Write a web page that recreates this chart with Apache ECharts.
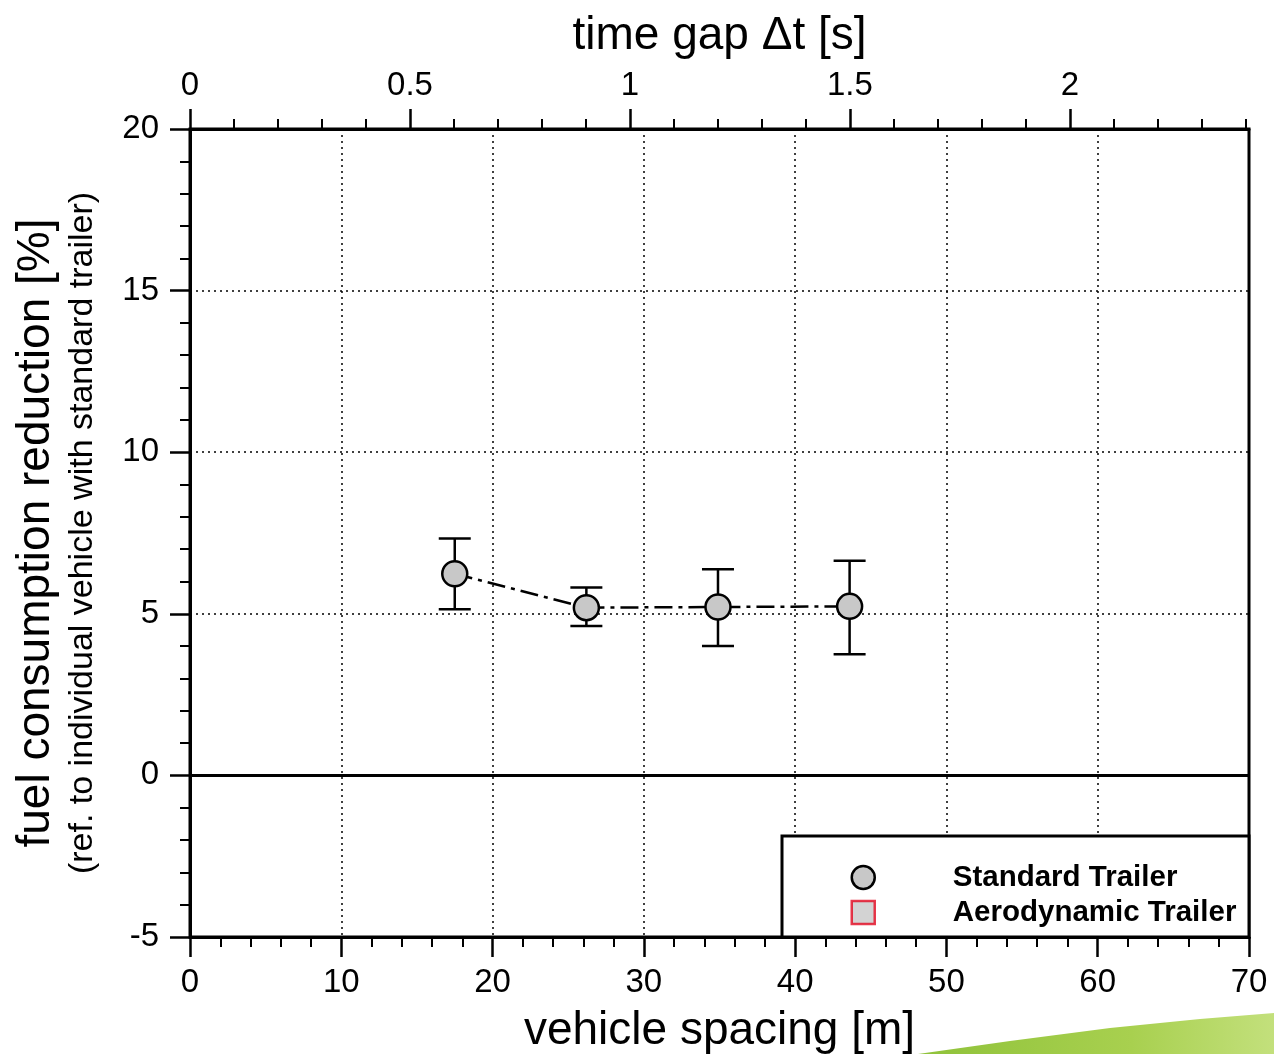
<!DOCTYPE html>
<html>
<head>
<meta charset="utf-8">
<title>Fuel consumption reduction vs. vehicle spacing</title>
<script src="https://cdn.jsdelivr.net/npm/echarts@6/dist/echarts.min.js"></script>
<style>
  html, body { margin: 0; padding: 0; background: #fff; }
  #chart { width: 1274px; height: 1054px; }
</style>
</head>
<body>
<div id="chart"></div>
<script>
// Platooning measurements: spacing of the trailing truck and the fuel saving it gets
const spacing   = [17.5, 26.2, 34.9, 43.6];      // vehicle spacing [m]
const reduction = [6.24, 5.19, 5.21, 5.23];      // mean fuel consumption reduction [%]
const errLow    = [5.14, 4.62, 4.00, 3.75];      // lower end of the spread [%]
const errHigh   = [7.33, 5.81, 6.38, 6.64];      // upper end of the spread [%]

// Secondary (top) axis: the same spacing expressed as a time gap
const timeGapMax    = 2.407;                     // time gap [s] that matches 70 m
const timeGapLabels = [0, 0.5, 1, 1.5, 2];

const legendNames = ['Standard Trailer', 'Aerodynamic Trailer'];

const FONT = '"Liberation Sans", Arial, Helvetica, sans-serif';
const BLACK = '#000';
const MARKER_FILL = '#c8c8c8';
const AERO_RED = '#e2071f';

const chart = echarts.init(document.getElementById('chart'), null, { renderer: 'canvas' });

const axisLine = { onZero: false, lineStyle: { color: BLACK, width: 3 } };
const majorTick = { show: true, length: 20, lineStyle: { color: BLACK, width: 2.5 } };
const minorTick = { show: true, splitNumber: 5, length: 10, lineStyle: { color: BLACK, width: 2 } };
const dotted = { show: true, lineStyle: { color: BLACK, width: 1.5, type: [2, 4] } };
const tickLabel = { fontSize: 33, color: BLACK, fontFamily: FONT };

const option = {
  backgroundColor: '#fff',
  animation: false,
  textStyle: { fontFamily: FONT },
  grid: {
    left: 190, right: 25, top: 129, bottom: 117,
    containLabel: false, outerBoundsMode: 'none',
    show: true, borderColor: BLACK, borderWidth: 3, backgroundColor: 'transparent'
  },
  legend: {
    orient: 'vertical',
    left: 850.5, top: 862.5,
    padding: 0,
    itemWidth: 23, itemHeight: 23, itemGap: 5,
    selectedMode: false,
    z: 10,
    textStyle: {
      fontSize: 29.5, fontWeight: 'bold', color: BLACK, fontFamily: FONT,
      lineHeight: 23, padding: [0, 0, 0, 73]
    },
    data: [
      { name: legendNames[0], icon: 'circle',
        itemStyle: { color: MARKER_FILL, borderColor: BLACK, borderWidth: 2.5 } },
      { name: legendNames[1], icon: 'rect',
        itemStyle: { color: MARKER_FILL, borderColor: AERO_RED, borderWidth: 2.5 } }
    ]
  },
  xAxis: [
    {
      type: 'value', position: 'bottom', gridIndex: 0,
      min: 0, max: 70, interval: 10,
      name: 'vehicle spacing [m]', nameLocation: 'middle', nameGap: 71,
      nameTextStyle: { fontSize: 46, color: BLACK, fontFamily: FONT },
      axisLine: axisLine, axisTick: majorTick, minorTick: minorTick,
      axisLabel: Object.assign({ margin: 29 }, tickLabel),
      splitLine: dotted
    },
    {
      type: 'value', position: 'top', gridIndex: 0,
      min: 0, max: timeGapMax, interval: 0.5,
      name: 'time gap Δt [s]', nameLocation: 'middle', nameGap: 70,
      nameTextStyle: { fontSize: 46, color: BLACK, fontFamily: FONT },
      axisLine: axisLine,
      axisTick: Object.assign({ customValues: timeGapLabels }, majorTick),
      minorTick: minorTick,
      axisLabel: Object.assign({ margin: 27, customValues: timeGapLabels }, tickLabel),
      splitLine: { show: false }
    }
  ],
  yAxis: [
    {
      type: 'value', position: 'left',
      min: -5, max: 20, interval: 5,
      name: '{a|fuel consumption reduction [%]}\n{b|(ref. to individual vehicle with standard trailer)}',
      nameLocation: 'middle', nameGap: 86,
      nameTextStyle: {
        color: BLACK, fontFamily: FONT,
        rich: {
          a: { fontSize: 46, lineHeight: 52, color: BLACK, fontFamily: FONT },
          b: { fontSize: 34, lineHeight: 42, color: BLACK, fontFamily: FONT }
        }
      },
      axisLine: axisLine, axisTick: majorTick, minorTick: minorTick,
      axisLabel: Object.assign({ margin: 31 }, tickLabel),
      splitLine: dotted
    }
  ],
  graphic: [
    {
      // legend frame in the lower right corner of the plot
      type: 'rect', z: 1,
      shape: { x: 782, y: 836, width: 467, height: 101 },
      style: { fill: '#fff', stroke: BLACK, lineWidth: 3 }
    },
    {
      // slide decoration along the bottom edge
      type: 'polygon', z: 0,
      shape: { points: [[918, 1054], [1010, 1041], [1110, 1028], [1200, 1019], [1274, 1013], [1274, 1054]] },
      style: {
        fill: new echarts.graphic.LinearGradient(0, 0, 1, 0, [
          { offset: 0, color: '#8fc23a' },
          { offset: 0.6, color: '#a8d04f' },
          { offset: 1, color: '#c3e07c' }
        ])
      }
    }
  ],
  series: [
    {
      // dash-dot connection of the mean values, plus the zero reference line
      type: 'line', xAxisIndex: 0, yAxisIndex: 0, z: 2,
      data: spacing.map((s, i) => [s, reduction[i]]),
      symbol: 'none', silent: true,
      lineStyle: { color: BLACK, width: 2.5, type: [18, 6, 4, 6] },
      markLine: {
        silent: true, symbol: 'none', animation: false,
        label: { show: false },
        lineStyle: { color: BLACK, width: 3, type: 'solid' },
        data: [{ yAxis: 0 }]
      }
    },
    {
      // error bars: vertical whisker with caps at both ends
      type: 'custom', xAxisIndex: 0, yAxisIndex: 0, z: 3, silent: true,
      data: spacing.map((s, i) => [s, errLow[i], errHigh[i]]),
      encode: { x: 0, y: [1, 2] },
      renderItem: function (params, api) {
        const x = api.value(0);
        const lo = api.coord([x, api.value(1)]);
        const hi = api.coord([x, api.value(2)]);
        const half = 16;
        const style = { stroke: BLACK, lineWidth: 2.5 };
        return {
          type: 'group',
          children: [
            { type: 'line', shape: { x1: lo[0], y1: lo[1], x2: hi[0], y2: hi[1] }, style: style },
            { type: 'line', shape: { x1: lo[0] - half, y1: lo[1], x2: lo[0] + half, y2: lo[1] }, style: style },
            { type: 'line', shape: { x1: hi[0] - half, y1: hi[1], x2: hi[0] + half, y2: hi[1] }, style: style }
          ]
        };
      }
    },
    {
      name: legendNames[0],
      type: 'scatter', xAxisIndex: 0, yAxisIndex: 0, z: 4,
      symbol: 'circle', symbolSize: 25,
      itemStyle: { color: MARKER_FILL, borderColor: BLACK, borderWidth: 2.5, opacity: 1 },
      data: spacing.map((s, i) => [s, reduction[i]])
    },
    {
      name: legendNames[1],
      type: 'scatter', xAxisIndex: 0, yAxisIndex: 0, z: 4,
      symbol: 'rect', symbolSize: 21,
      itemStyle: { color: MARKER_FILL, borderColor: AERO_RED, borderWidth: 2.5 },
      data: []
    }
  ]
};

chart.setOption(option);
</script>
</body>
</html>
